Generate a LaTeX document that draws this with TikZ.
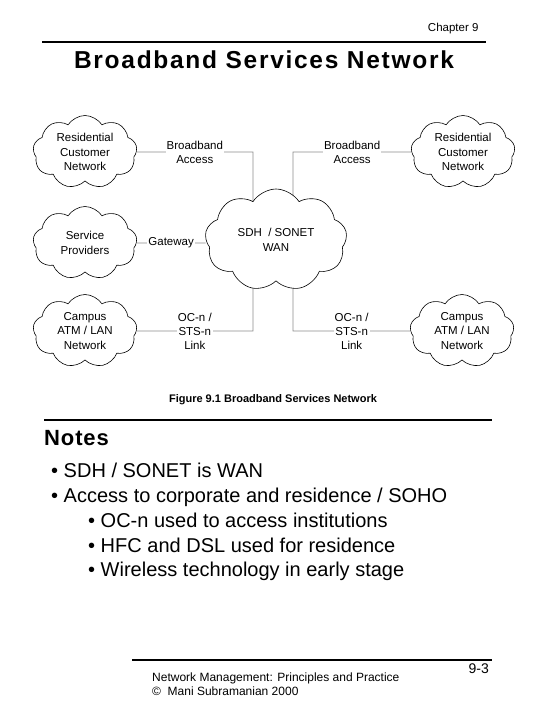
\documentclass[tikz,border=0pt]{standalone}
\usepackage{fontspec}
\setmainfont{Liberation Sans}
\usetikzlibrary{shapes.symbols,backgrounds}

\begin{document}
\begin{tikzpicture}[x=1pt, y=-1pt, line join=round, line cap=round,
	cloudbox/.style={cloud, cloud puffs=9, cloud puff arc=115, cloud ignores aspect,
		draw, fill=white, line width=0.6pt, minimum width=104pt, minimum height=73pt,
		inner sep=0pt, align=center, font=\fontsize{11.5}{14.5}\selectfont},
	linklabel/.style={fill=white, inner sep=1pt, align=center, font=\fontsize{11.5}{14}\selectfont},
	link/.style={draw=black!45, line width=0.6pt},
	rule/.style={line width=2pt, line cap=butt}]
	\useasboundingbox (0,0) rectangle (540,720);
	% header
	\node[anchor=east, font=\fontsize{11.5}{14}\selectfont] (chap) at (482,29) {Chapter 9};
	\draw[rule] (42,42) -- (486,42);
	\node[font=\fontsize{24.5}{28}\selectfont\bfseries\addfontfeature{LetterSpace=7}] (title) at (264,60) {Broadband Services Network};
	% corners of the links
	\path
	(253,152) coordinate (TL)
	(293,152) coordinate (TR)
	(253,331) coordinate (BL)
	(293,331) coordinate (BR)
	;
	\node[cloudbox] (RL) at (85,152) {Residential\\Customer\\Network};
	\node[cloudbox] (SP) at (85,243) {Service\\Providers};
	\node[cloudbox] (CL) at (85,331) {Campus\\ATM / LAN\\Network};
	\node[cloudbox] (RR) at (463,152) {Residential\\Customer\\Network};
	\node[cloudbox] (CR) at (462,331) {Campus\\ATM / LAN\\Network};
	\node[cloudbox, minimum width=142pt, minimum height=102pt] (WAN) at (276,240) {SDH\ \ / SONET\\WAN};
	\begin{scope}[on background layer]
	\draw[link] (RL) -- node[linklabel]{Broadband\\Access} (TL) -- (TL |- WAN);
	\draw[link] (RR) -- node[linklabel]{Broadband\\Access} (TR) -- (TR |- WAN);
	\draw[link] (SP) -- node[linklabel]{Gateway} (SP -| WAN.west);
	\draw[link] (CL) -- node[linklabel]{OC-n /\\STS-n\\Link} (BL) -- (BL |- WAN);
	\draw[link] (CR) -- node[linklabel]{OC-n /\\STS-n\\Link} (BR) -- (BR |- WAN);
	\end{scope}
	\node[font=\fontsize{11}{14}\selectfont\bfseries] (caption) at (273,400) {Figure 9.1 Broadband Services Network};
	% notes
	\draw[rule] (44,420) -- (492,420);
	\node[anchor=west, inner sep=0pt, font=\fontsize{22}{26}\selectfont\bfseries\addfontfeature{LetterSpace=4}] (notes) at (44,438) {Notes};
	\foreach \y/\x/\txt [count=\i] in {477/51/{SDH / SONET is WAN}, 502/51/{Access to corporate and residence / SOHO},
		527/88/{OC-n used to access institutions}, 552/88/{HFC and DSL used for residence}, 576/88/{Wireless technology in early stage}}{
		\node[anchor=base west, inner sep=0pt, font=\fontsize{20}{24}\selectfont] (note\i) at (\x,\y) {\textbullet\ \txt};
	}
	% footer
	\draw[rule] (132,660) -- (492,660);
	\node[anchor=base west, inner sep=0pt, font=\fontsize{12}{14}\selectfont] (book) at (152,681) {Network Management: Principles and Practice};
	\node[anchor=base west, inner sep=0pt, font=\fontsize{12}{14}\selectfont] (copy) at (152,695) {©\ \ Mani Subramanian 2000};
	\node[anchor=base east, inner sep=0pt, font=\fontsize{14}{16}\selectfont] (page) at (489,673) {9-3};
\end{tikzpicture}
\end{document}
